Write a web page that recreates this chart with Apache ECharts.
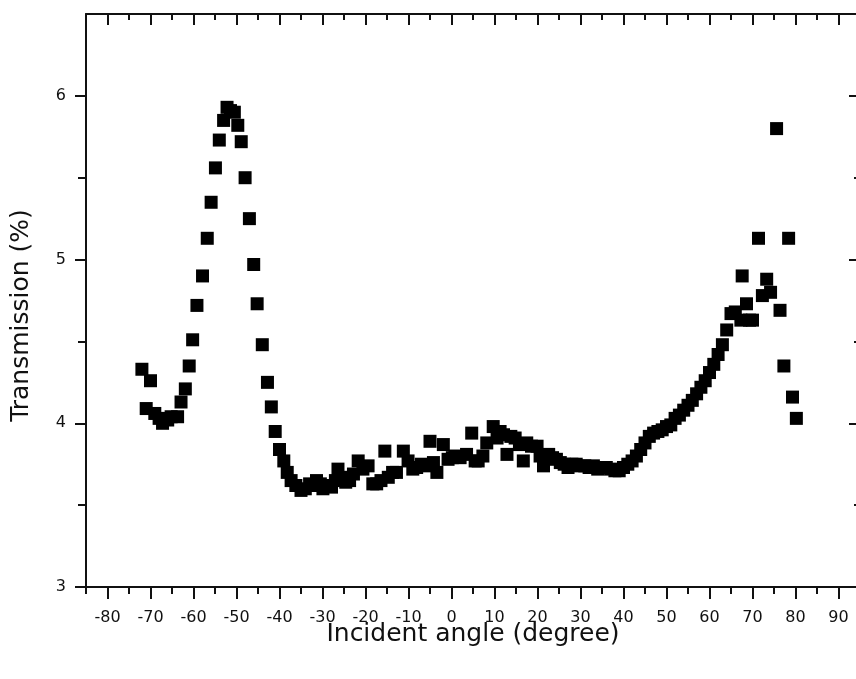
<!DOCTYPE html>
<html>
<head>
<meta charset="utf-8">
<script src="https://cdn.jsdelivr.net/npm/echarts@6/dist/echarts.min.js"></script>
<style>
  html, body { margin: 0; padding: 0; background: #ffffff; }
  #chart { width: 856px; height: 679px; }
</style>
</head>
<body>
<div id="chart"></div>
<script>
// Incident angle (degree)
const angles = [
  -72.0, -71.0, -70.0, -69.0, -68.0, -67.2, -66.0, -65.2, -63.7, -62.9,
  -61.9, -61.0, -60.2, -59.2, -57.9, -56.8, -55.9, -54.9, -54.0, -53.0,
  -52.2, -51.4, -50.5, -49.7, -48.9, -48.0, -47.0, -46.0, -45.2, -44.0,
  -42.8, -41.9, -41.0, -40.0, -39.0, -38.2, -37.3, -36.2, -35.0, -34.0,
  -33.0, -32.0, -31.4, -30.5, -29.9, -29.0, -27.9, -27.0, -26.4, -25.5,
  -24.6, -23.7, -22.8, -21.7, -20.6, -19.4, -18.3, -17.4, -16.4, -15.5,
  -14.7, -13.7, -12.8, -11.2, -10.1, -9.0, -8.1, -7.0, -5.8, -5.0,
  -4.2, -3.4, -1.9, -0.8, 0.2, 0.8, 2.0, 3.5, 4.7, 5.5,
  6.2, 7.3, 8.2, 9.7, 10.6, 11.3, 12.1, 12.9, 13.8, 14.8,
  15.8, 16.7, 17.5, 18.6, 19.9, 20.6, 21.4, 22.6, 23.5, 24.4,
  25.3, 26.2, 27.1, 28.0, 29.0, 30.0, 31.0, 32.0, 33.0, 34.0,
  35.0, 36.0, 37.0, 38.0, 39.0, 40.0, 41.0, 42.0, 43.0, 44.0,
  45.0, 46.0, 47.0, 48.0, 49.0, 50.0, 51.0, 52.0, 53.0, 54.0,
  55.0, 56.0, 57.0, 58.0, 59.0, 60.0, 61.0, 62.0, 63.0, 64.0,
  65.0, 66.0, 67.3, 67.6, 68.6, 69.3, 70.0, 71.4, 72.3, 73.3,
  74.2, 75.6, 76.4, 77.3, 78.4, 79.3, 80.2
];

// Transmission (%)
const transmission = [
  4.33, 4.09, 4.26, 4.06, 4.03, 4.00, 4.02, 4.04, 4.04, 4.13,
  4.21, 4.35, 4.51, 4.72, 4.90, 5.13, 5.35, 5.56, 5.73, 5.85,
  5.93, 5.91, 5.90, 5.82, 5.72, 5.50, 5.25, 4.97, 4.73, 4.48,
  4.25, 4.10, 3.95, 3.84, 3.77, 3.70, 3.65, 3.62, 3.59, 3.60,
  3.63, 3.62, 3.65, 3.63, 3.60, 3.62, 3.61, 3.65, 3.72, 3.67,
  3.64, 3.65, 3.69, 3.77, 3.72, 3.74, 3.63, 3.63, 3.65, 3.83,
  3.67, 3.70, 3.70, 3.83, 3.77, 3.72, 3.73, 3.75, 3.74, 3.89,
  3.76, 3.70, 3.87, 3.78, 3.79, 3.80, 3.79, 3.81, 3.94, 3.77,
  3.77, 3.80, 3.88, 3.98, 3.91, 3.95, 3.93, 3.81, 3.92, 3.91,
  3.87, 3.77, 3.88, 3.86, 3.86, 3.80, 3.74, 3.81, 3.79, 3.78,
  3.76, 3.75, 3.73, 3.75, 3.75, 3.74, 3.74, 3.73, 3.74, 3.72,
  3.73, 3.73, 3.72, 3.71, 3.71, 3.73, 3.75, 3.77, 3.80, 3.84,
  3.88, 3.92, 3.94, 3.95, 3.96, 3.98, 3.99, 4.03, 4.05, 4.08,
  4.11, 4.14, 4.18, 4.22, 4.26, 4.31, 4.36, 4.42, 4.48, 4.57,
  4.67, 4.68, 4.63, 4.90, 4.73, 4.63, 4.63, 5.13, 4.78, 4.88,
  4.80, 5.80, 4.69, 4.35, 5.13, 4.16, 4.03
];

// Tick positions
const xMajorTicks = [-80, -70, -60, -50, -40, -30, -20, -10, 0, 10, 20, 30, 40, 50, 60, 70, 80, 90];
const xMinorTicks = [-85, -75, -65, -55, -45, -35, -25, -15, -5, 5, 15, 25, 35, 45, 55, 65, 75, 85];
const yMajorTicks = [3, 4, 5, 6];
const yMinorTicks = [3.5, 4.5, 5.5];

const X_MIN = -85, X_MAX = 95, Y_MIN = 3, Y_MAX = 6.5;
const INK = '#111111';
const FONT = 'DejaVu Sans';

function xAxisDef(position, ticks, length, inside, showLine, showLabel) {
  return {
    type: 'value', position: position, min: X_MIN, max: X_MAX,
    axisLine: { show: showLine, onZero: false, lineStyle: { color: INK, width: 2 } },
    axisTick: { show: true, customValues: ticks, length: length, inside: inside,
                lineStyle: { color: INK, width: 2 } },
    axisLabel: showLabel
      ? { show: true, customValues: ticks, margin: 23, color: INK, fontFamily: FONT, fontSize: 16 }
      : { show: false },
    splitLine: { show: false }
  };
}

function yAxisDef(position, ticks, length, inside, showLine, showLabel) {
  return {
    type: 'value', position: position, min: Y_MIN, max: Y_MAX,
    axisLine: { show: showLine, onZero: false, lineStyle: { color: INK, width: 2 } },
    axisTick: { show: true, customValues: ticks, length: length, inside: inside,
                lineStyle: { color: INK, width: 2 } },
    axisLabel: showLabel
      ? { show: true, customValues: ticks, margin: 20, color: INK, fontFamily: FONT, fontSize: 16 }
      : { show: false },
    splitLine: { show: false }
  };
}

const xBottom = xAxisDef('bottom', xMajorTicks, 12, false, true, true);
xBottom.name = 'Incident angle (degree)';
xBottom.nameLocation = 'middle';
xBottom.nameGap = 35;
xBottom.nameMoveOverlap = false;
xBottom.nameTextStyle = { color: INK, fontFamily: FONT, fontSize: 25 };

const yLeft = yAxisDef('left', yMajorTicks, 11, false, true, true);
yLeft.name = 'Transmission (%)';
yLeft.nameLocation = 'middle';
yLeft.nameGap = 52;
yLeft.nameMoveOverlap = false;
yLeft.nameTextStyle = { color: INK, fontFamily: FONT, fontSize: 25, padding: [0, 30, 0, 0] };

const chart = echarts.init(document.getElementById('chart'), null, { renderer: 'canvas' });
chart.setOption({
  backgroundColor: '#ffffff',
  animation: false,
  // the plot frame runs a few pixels past the right edge of the canvas
  grid: { left: 86, width: 774, top: 14, height: 573, containLabel: false, outerBoundsMode: 'none' },
  xAxis: [
    xBottom,
    xAxisDef('bottom', xMinorTicks, 7, false, false, false),
    xAxisDef('top', xMajorTicks, 11, true, true, false),
    xAxisDef('top', xMinorTicks, 6, true, false, false)
  ],
  yAxis: [
    yLeft,
    yAxisDef('left', yMinorTicks, 8, false, false, false),
    yAxisDef('right', yMajorTicks, 11, true, true, false),
    yAxisDef('right', yMinorTicks, 6, true, false, false)
  ],
  series: [{
    type: 'scatter',
    xAxisIndex: 0,
    yAxisIndex: 0,
    symbol: 'rect',
    symbolSize: 13,
    itemStyle: { color: '#000000', opacity: 1 },
    data: angles.map((a, i) => [a, transmission[i]])
  }]
});
</script>
</body>
</html>
